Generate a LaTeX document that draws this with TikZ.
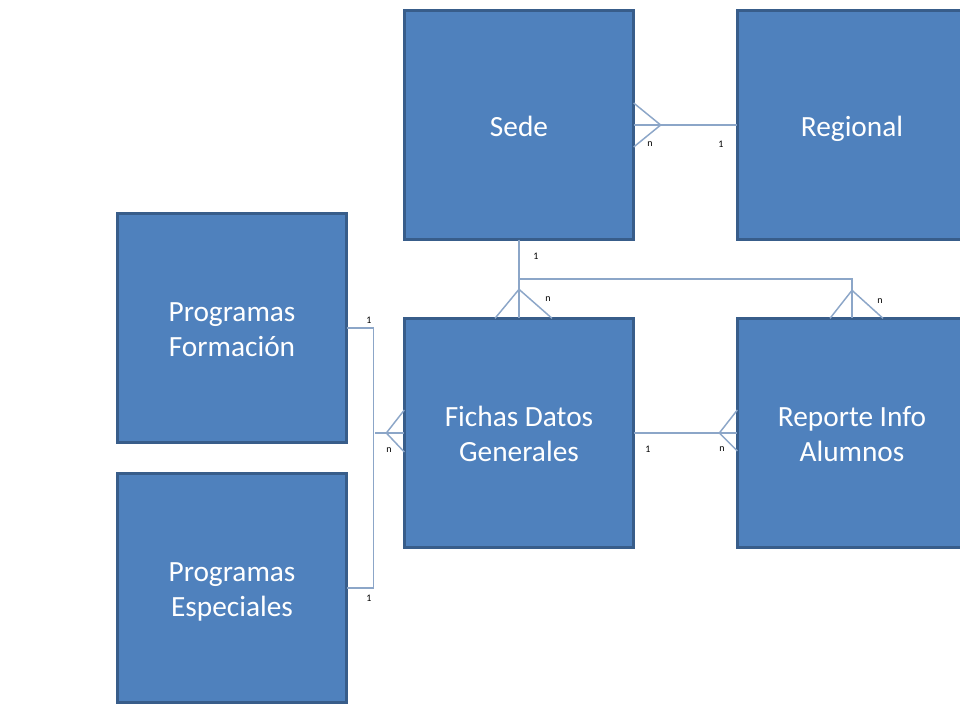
\documentclass[tikz,border=0pt]{standalone}
\usepackage{fontspec}
\setmainfont{Carlito}
\usetikzlibrary{calc}
\definecolor{entfill}{RGB}{79,129,189}
\definecolor{entborder}{RGB}{56,93,138}
\definecolor{relc}{RGB}{140,166,200}
\newcommand{\topstrut}{\rule{0pt}{24.4pt}}
\begin{document}
\begin{tikzpicture}[x=0.75pt,y=-0.75pt,
  entity/.style={draw=entborder, fill=entfill, line width=1.8pt, minimum width=172pt, minimum height=172pt,
     text=white, font=\fontsize{22}{26.3}\selectfont, align=center, inner sep=0pt, outer sep=0pt},
  rel/.style={draw=relc, line width=1.1pt},
  card/.style={font=\fontsize{7.5}{8}\selectfont, text=black, inner sep=0pt}]
\useasboundingbox (0,0) rectangle (960,715);
\clip (0,0) rectangle (960,715);
\fill[white] (0,0) rectangle (960,715);
\node[entity] (sede) at (519,125) {\topstrut\strut Sede};
\node[entity] (regional) at (852,125) {\topstrut\strut Regional};
\node[entity] (fichas) at (519,433) {\topstrut\strut Fichas Datos\\\strut Generales};
\node[entity] (reporte) at (852,433) {\topstrut\strut Reporte Info\\\strut Alumnos};
\node[entity] (progf) at (232,328) {\topstrut\strut Programas\\\strut Formación};
\node[entity] (proge) at (232,588) {\topstrut\strut Programas\\\strut Especiales};
% Sede - Regional
\draw[rel] (sede.east) -- (regional.west);
\draw[rel] ($(sede.east)+(0,-22)$) -- ($(sede.east)+(27,0)$) -- ($(sede.east)+(0,22)$);
\node[card] at (650,144) {n};
\node[card] at (721,144) {1};
% Sede - Fichas / Reporte
\coordinate (j) at (519,279);
\draw[rel] (sede.south) -- (fichas.north);
\draw[rel] (j) -| (reporte.north);
\draw[rel] ($(fichas.north)+(-24,0)$) -- ($(fichas.north)+(0,-29)$) -- ($(fichas.north)+(33,0)$);
\draw[rel] ($(reporte.north)+(-22,0)$) -- ($(reporte.north)+(0,-28)$) -- ($(reporte.north)+(31,0)$);
\node[card] at (536,256) {1};
\node[card] at (548,299) {n};
\node[card] at (880,301) {n};
% Programas - Fichas
\coordinate (bus) at (375,433);
\draw[rel] (progf.east) -- ++(27,0) |- (proge.east);
\draw[rel] (bus) -- (fichas.west);
\draw[rel] ($(fichas.west)+(0,-23)$) -- ($(fichas.west)+(-18,0)$) -- ($(fichas.west)+(0,19)$);
\node[card] at (369,320) {1};
\node[card] at (389,450) {n};
\node[card] at (369,598) {1};
% Fichas - Reporte
\draw[rel] (fichas.east) -- (reporte.west);
\draw[rel] ($(reporte.west)+(0,-23)$) -- ($(reporte.west)+(-18,0)$) -- ($(reporte.west)+(0,18)$);
\node[card] at (648,449) {1};
\node[card] at (722,449) {n};
\end{tikzpicture}
\end{document}
